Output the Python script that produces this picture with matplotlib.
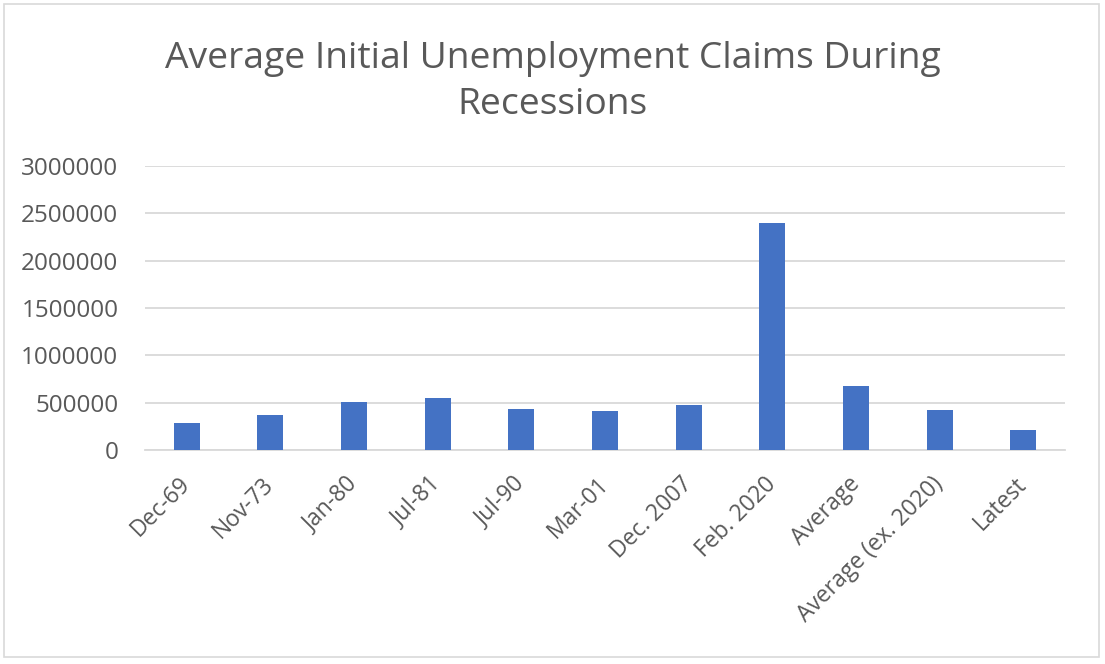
import matplotlib
matplotlib.use("Agg")
import matplotlib.pyplot as plt
from matplotlib.patches import Rectangle

plt.rcParams['font.family'] = ['Open Sans', 'DejaVu Sans']

# 数据
categories = ["Dec-69", "Nov-73", "Jan-80", "Jul-81", "Jul-90", "Mar-01",
              "Dec. 2007", "Feb. 2020", "Average", "Average (ex. 2020)", "Latest"]
claims = [285000, 371000, 511000, 554000, 432000, 409000,
          473000, 2395000, 680000, 427000, 210000]
yticks = [0, 500000, 1000000, 1500000, 2000000, 2500000, 3000000]

text_color = "#595959"
grid_color = "#D9D9D9"
bar_color = "#4472C4"

fig = plt.figure(figsize=(11.05, 6.64), dpi=100)
ax = fig.add_axes([0.131, 0.322, 0.833, 0.428])

x = range(len(categories))
ax.bar(x, claims, width=0.31, color=bar_color, zorder=3)

ax.set_xlim(-0.5, len(categories) - 0.5)
ax.set_ylim(0, 3000000)
ax.set_yticks(yticks)
ax.set_yticklabels([str(v) for v in yticks])
ax.set_xticks(list(x))
ax.set_xticklabels(categories, rotation=45, ha="right", va="center",
                   rotation_mode="anchor")

ax.grid(axis="y", color=grid_color, linewidth=1.3, zorder=0)
ax.tick_params(axis="both", length=0, labelcolor=text_color)
ax.tick_params(axis="x", pad=22, labelsize=16.5)
ax.tick_params(axis="y", pad=19, labelsize=17.5)
for s in ["top", "right", "left"]:
    ax.spines[s].set_visible(False)
ax.spines["bottom"].set_color(grid_color)
ax.spines["bottom"].set_linewidth(1.3)

fig.text(0.5, 0.876, "Average Initial Unemployment Claims During\nRecessions",
         ha="center", va="center", fontsize=26.8, color=text_color, linespacing=1.36)

# 外框
fig.patches.append(Rectangle((0.004, 0.01), 0.991, 0.984, transform=fig.transFigure,
                             fill=False, edgecolor="#D9D9D9", linewidth=1.2))

fig.savefig("out.png", dpi=100)
